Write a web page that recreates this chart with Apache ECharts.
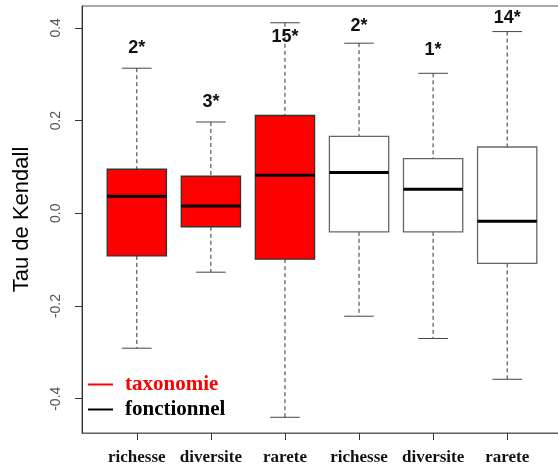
<!DOCTYPE html>
<html>
<head>
<meta charset="utf-8">
<script src="https://cdn.jsdelivr.net/npm/echarts@6/dist/echarts.min.js"></script>
<style>
  html, body { margin: 0; padding: 0; background: #fff; }
  #chart { width: 558px; height: 465px; }
</style>
</head>
<body>
<div id="chart"></div>
<script>
// Kendall tau distributions per index, taxonomic vs functional diversity
const categories = ['richesse', 'diversite', 'rarete', 'richesse', 'diversite', 'rarete'];
const groupNames = ['taxonomie', 'fonctionnel'];
const groupOf = [0, 0, 0, 1, 1, 1];
const whiskerLow  = [-0.291, -0.127, -0.440, -0.222, -0.270, -0.358];
const quartile1   = [-0.092, -0.029, -0.099, -0.040, -0.040, -0.108];
const medians     = [ 0.037,  0.016,  0.082,  0.088,  0.052, -0.017];
const quartile3   = [ 0.095,  0.080,  0.211,  0.166,  0.118,  0.143];
const whiskerHigh = [ 0.313,  0.197,  0.411,  0.367,  0.302,  0.392];
// count of significant correlations and the tau level where each note sits
const starNotes = ['2*', '3*', '15*', '2*', '1*', '14*'];
const starLevel = [0.356, 0.239, 0.381, 0.405, 0.353, 0.421];
const yTicks = [-0.4, -0.2, 0.0, 0.2, 0.4];

const fills = ['#ff0000', '#ffffff'];
const borders = ['#333333', '#666666'];
const legendColors = ['#ff0000', '#000000'];

function rowsFor(g) {
  const rows = [];
  categories.forEach((c, i) => {
    if (groupOf[i] === g) {
      rows.push([i + 1, whiskerLow[i], quartile1[i], medians[i], quartile3[i], whiskerHigh[i], i]);
    }
  });
  return rows;
}

function boxRenderer(g) {
  return function (params, api) {
    const x = api.value(0);
    const lo = api.value(1), q1 = api.value(2), med = api.value(3), q3 = api.value(4), hi = api.value(5);
    const c = (a, b) => api.coord([a, b]);
    const dash = { stroke: '#333', lineWidth: 1, lineDash: [4, 3] };
    const solid = { stroke: '#444', lineWidth: 1 };
    const top = c(x, hi), q3p = c(x, q3), q1p = c(x, q1), bot = c(x, lo);
    const capL = c(x - 0.2, hi), capR = c(x + 0.2, hi);
    const capL2 = c(x - 0.2, lo), capR2 = c(x + 0.2, lo);
    const bL = c(x - 0.4, q3), bR = c(x + 0.4, q1);
    const mL = c(x - 0.4, med), mR = c(x + 0.4, med);
    return {
      type: 'group',
      children: [
        { type: 'line', shape: { x1: top[0], y1: top[1], x2: q3p[0], y2: q3p[1] }, style: dash },
        { type: 'line', shape: { x1: q1p[0], y1: q1p[1], x2: bot[0], y2: bot[1] }, style: dash },
        { type: 'line', shape: { x1: capL[0], y1: capL[1], x2: capR[0], y2: capR[1] }, style: solid },
        { type: 'line', shape: { x1: capL2[0], y1: capL2[1], x2: capR2[0], y2: capR2[1] }, style: solid },
        { type: 'rect', shape: { x: bL[0], y: bL[1], width: bR[0] - bL[0], height: bR[1] - bL[1] },
          style: { fill: fills[g], stroke: borders[g], lineWidth: 1.3 } },
        { type: 'line', shape: { x1: mL[0], y1: mL[1], x2: mR[0], y2: mR[1] },
          style: { stroke: '#000', lineWidth: 3 } }
      ]
    };
  };
}

const starRows = starNotes.map((s, i) => [i + 1, starLevel[i], s]);

const chart = echarts.init(document.getElementById('chart'), null, { renderer: 'canvas' });
chart.setOption({
  animation: false,
  backgroundColor: '#fff',
  grid: {
    left: 82, top: 6, right: -4, bottom: 32,
    outerBoundsMode: 'none', containLabel: false,
    show: true, borderColor: '#555', borderWidth: 1, backgroundColor: 'transparent'
  },
  legend: {
    left: 83, top: 367, orient: 'vertical',
    itemWidth: 25, itemHeight: 2, itemGap: 0,
    selectedMode: false,
    data: groupNames.map((n, g) => ({
      name: n, icon: 'rect',
      itemStyle: { color: legendColors[g] },
      textStyle: { color: legendColors[g] }
    })),
    textStyle: {
      fontFamily: 'Liberation Serif', fontWeight: 'bold', fontSize: 21,
      lineHeight: 25, padding: [0, 0, 0, 7]
    }
  },
  xAxis: {
    type: 'value', min: 0.26, max: 6.74,
    splitLine: { show: false },
    axisLine: { show: true, onZero: false, lineStyle: { color: '#666', width: 1 } },
    axisTick: { show: true, inside: false, length: 7, customValues: categories.map((c, i) => i + 1),
      lineStyle: { color: '#333' } },
    axisLabel: {
      customValues: categories.map((c, i) => i + 1),
      formatter: v => categories[Math.round(v) - 1] || '',
      margin: 16, color: '#111',
      fontFamily: 'Liberation Serif', fontWeight: 'bold', fontSize: 17
    }
  },
  yAxis: {
    type: 'value', min: -0.4739, max: 0.4472,
    splitLine: { show: false },
    name: 'Tau de Kendall', nameLocation: 'middle', nameRotate: 90, nameGap: 49,
    nameTextStyle: { fontFamily: 'Liberation Sans', fontSize: 22, color: '#000' },
    axisLine: { show: true, onZero: false, lineStyle: { color: '#333', width: 1 } },
    axisTick: { show: true, length: 7, customValues: yTicks, lineStyle: { color: '#333' } },
    axisLabel: {
      customValues: yTicks,
      formatter: v => v.toFixed(1),
      rotate: 90, margin: 19, color: '#555',
      fontFamily: 'Liberation Sans', fontSize: 14
    }
  },
  series: [
    {
      name: groupNames[0], type: 'custom', data: rowsFor(0),
      itemStyle: { color: legendColors[0] },
      renderItem: boxRenderer(0), encode: { x: 0, y: [1, 5] }
    },
    {
      name: groupNames[1], type: 'custom', data: rowsFor(1),
      itemStyle: { color: legendColors[1] },
      renderItem: boxRenderer(1), encode: { x: 0, y: [1, 5] }
    },
    {
      name: 'notes', type: 'custom', data: starRows, silent: true,
      encode: { x: 0, y: 1 },
      renderItem: function (params, api) {
        const p = api.coord([api.value(0), api.value(1)]);
        return {
          type: 'text',
          x: p[0], y: p[1],
          style: {
            text: starRows[params.dataIndex][2],
            fill: '#111', align: 'center', verticalAlign: 'middle',
            font: 'bold 18px "Liberation Sans"'
          }
        };
      }
    }
  ]
});
</script>
</body>
</html>
